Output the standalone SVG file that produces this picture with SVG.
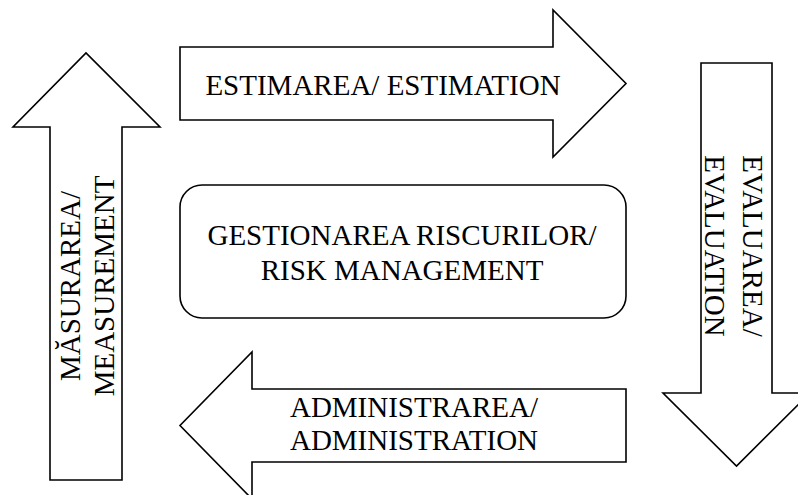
<svg xmlns="http://www.w3.org/2000/svg" width="798" height="495" viewBox="0 0 798 495">
<style>
.shape{fill:#fff;stroke:#000;stroke-width:1.6;stroke-linejoin:miter}
.t{font-family:"Liberation Serif","Times New Roman",serif;font-size:29px;fill:#000;text-anchor:middle}
</style>
<rect width="798" height="495" fill="#fff"/>
<g id="measurement">
<polygon class="shape" points="50,480 50,127 13,127 86,53 160,127 122,127 122,480"/>
<text class="t" transform="translate(80,286) rotate(-90)">MĂSURAREA/</text>
<text class="t" transform="translate(114,286) rotate(-90)">MEASUREMENT</text>
</g>
<g id="estimation">
<polygon class="shape" points="180,47 553,47 553,10 626,83.5 553,157 553,120 180,120"/>
<text class="t" x="383" y="95">ESTIMAREA/ ESTIMATION</text>
</g>
<g id="evaluation">
<polygon class="shape" points="701,63 772,63 772,393 810,393 736.5,466 663,393 701,393"/>
<text class="t" transform="translate(743,246) rotate(90)">EVALUAREA/</text>
<text class="t" transform="translate(705,246) rotate(90)">EVALUATION</text>
</g>
<g id="administration">
<polygon class="shape" points="626,389 626,462 252,462 252,499 180,425.5 252,352 252,389"/>
<text class="t" x="414" y="417">ADMINISTRAREA/</text>
<text class="t" x="414" y="450">ADMINISTRATION</text>
</g>
<g id="risk-management">
<rect class="shape" x="180" y="185" width="446" height="133" rx="22" ry="22"/>
<text class="t" x="402" y="245">GESTIONAREA RISCURILOR/</text>
<text class="t" x="402" y="280">RISK MANAGEMENT</text>
</g>
</svg>
